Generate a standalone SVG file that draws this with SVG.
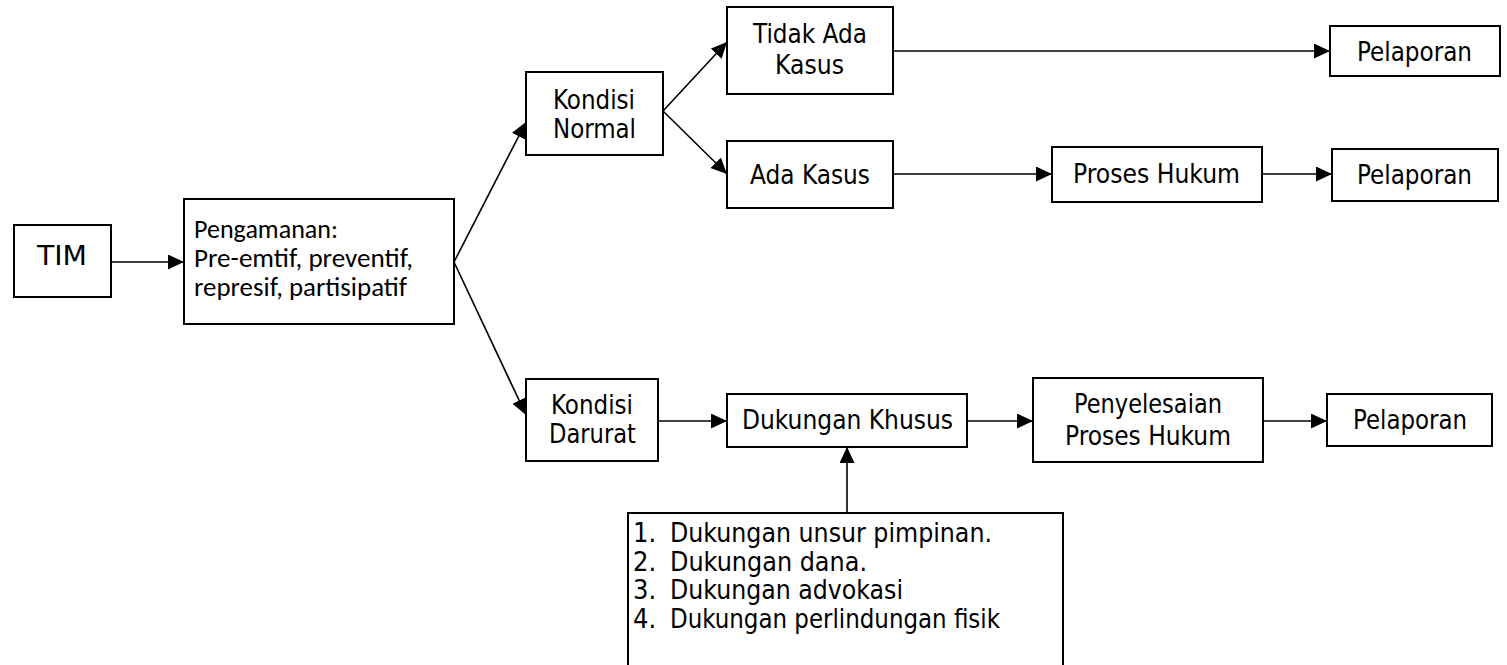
<svg xmlns="http://www.w3.org/2000/svg" width="1507" height="665" viewBox="0 0 1507 665">
<style>
.box{fill:#fff;stroke:#000;stroke-width:2}
.t{font-family:"DejaVu Sans Condensed","DejaVu Sans",sans-serif;font-stretch:condensed;font-size:27px;fill:#000}
.c{font-family:Carlito,Lato,"Liberation Sans",sans-serif;font-size:26px;fill:#000}
.ln{fill:none;stroke:#000;stroke-width:1.6}
</style>
<defs>
<marker id="ah" markerUnits="userSpaceOnUse" markerWidth="17" markerHeight="16" refX="16" refY="7.5" orient="auto">
<path d="M0,0 L16,7.5 L0,15 z" fill="#000"/>
</marker>
</defs>
<g id="connectors">
<line class="ln" x1="111" y1="262" x2="184" y2="262" marker-end="url(#ah)"/>
<line class="ln" x1="454" y1="262" x2="526" y2="122" marker-end="url(#ah)"/>
<line class="ln" x1="454" y1="262" x2="526" y2="415" marker-end="url(#ah)"/>
<line class="ln" x1="663" y1="111" x2="727" y2="42" marker-end="url(#ah)"/>
<line class="ln" x1="663" y1="111" x2="727" y2="174" marker-end="url(#ah)"/>
<line class="ln" x1="893" y1="51" x2="1330" y2="51" marker-end="url(#ah)"/>
<line class="ln" x1="893" y1="174" x2="1052" y2="174" marker-end="url(#ah)"/>
<line class="ln" x1="1262" y1="174" x2="1332" y2="174" marker-end="url(#ah)"/>
<line class="ln" x1="658" y1="421" x2="727" y2="421" marker-end="url(#ah)"/>
<line class="ln" x1="967" y1="421" x2="1033" y2="421" marker-end="url(#ah)"/>
<line class="ln" x1="1263" y1="421" x2="1327" y2="421" marker-end="url(#ah)"/>
<line class="ln" x1="847" y1="513" x2="847" y2="447" marker-end="url(#ah)"/>
</g>
<g id="tim">
<rect class="box" x="14" y="225" width="97" height="72"/>
<text class="t" x="37" y="265" textLength="50" lengthAdjust="spacingAndGlyphs">TIM</text>
</g>
<g id="pengamanan">
<rect class="box" x="184" y="199" width="270" height="125"/>
<text class="c" x="194" y="238" textLength="144" lengthAdjust="spacingAndGlyphs">Pengamanan:</text>
<text class="c" x="194" y="267" textLength="219" lengthAdjust="spacingAndGlyphs">Pre-emtif, preventif,</text>
<text class="c" x="194" y="296" textLength="213" lengthAdjust="spacingAndGlyphs">represif, partisipatif</text>
</g>
<g id="kondisi-normal">
<rect class="box" x="526" y="72" width="137" height="83"/>
<text class="t" x="553" y="109" textLength="82" lengthAdjust="spacingAndGlyphs">Kondisi</text>
<text class="t" x="553" y="138" textLength="83" lengthAdjust="spacingAndGlyphs">Normal</text>
</g>
<g id="tidak-ada-kasus">
<rect class="box" x="727" y="7" width="166" height="87"/>
<text class="t" x="753" y="43" textLength="114" lengthAdjust="spacingAndGlyphs">Tidak Ada</text>
<text class="t" x="775" y="74" textLength="69" lengthAdjust="spacingAndGlyphs">Kasus</text>
</g>
<g id="ada-kasus">
<rect class="box" x="727" y="141" width="166" height="67"/>
<text class="t" x="750" y="184" textLength="120" lengthAdjust="spacingAndGlyphs">Ada Kasus</text>
</g>
<g id="proses-hukum">
<rect class="box" x="1052" y="147" width="210" height="55"/>
<text class="t" x="1073" y="183" textLength="167" lengthAdjust="spacingAndGlyphs">Proses Hukum</text>
</g>
<g id="pelaporan-1">
<rect class="box" x="1330" y="26" width="170" height="50"/>
<text class="t" x="1357" y="61" textLength="115" lengthAdjust="spacingAndGlyphs">Pelaporan</text>
</g>
<g id="pelaporan-2">
<rect class="box" x="1332" y="149" width="166" height="52"/>
<text class="t" x="1357" y="184" textLength="115" lengthAdjust="spacingAndGlyphs">Pelaporan</text>
</g>
<g id="kondisi-darurat">
<rect class="box" x="526" y="379" width="132" height="82"/>
<text class="t" x="551" y="414" textLength="82" lengthAdjust="spacingAndGlyphs">Kondisi</text>
<text class="t" x="549" y="443" textLength="87" lengthAdjust="spacingAndGlyphs">Darurat</text>
</g>
<g id="dukungan-khusus">
<rect class="box" x="727" y="394" width="240" height="53"/>
<text class="t" x="742" y="429" textLength="211" lengthAdjust="spacingAndGlyphs">Dukungan Khusus</text>
</g>
<g id="penyelesaian">
<rect class="box" x="1033" y="378" width="230" height="84"/>
<text class="t" x="1074" y="413" textLength="148" lengthAdjust="spacingAndGlyphs">Penyelesaian</text>
<text class="t" x="1065" y="445" textLength="166" lengthAdjust="spacingAndGlyphs">Proses Hukum</text>
</g>
<g id="pelaporan-3">
<rect class="box" x="1327" y="394" width="165" height="52"/>
<text class="t" x="1353" y="429" textLength="114" lengthAdjust="spacingAndGlyphs">Pelaporan</text>
</g>
<g id="dukungan-list">
<rect class="box" x="628" y="513" width="435" height="200"/>
<text class="t" x="633" y="542">1.</text>
<text class="t" x="670" y="542" textLength="322" lengthAdjust="spacingAndGlyphs">Dukungan unsur pimpinan.</text>
<text class="t" x="633" y="571">2.</text>
<text class="t" x="670" y="571" textLength="197" lengthAdjust="spacingAndGlyphs">Dukungan dana.</text>
<text class="t" x="633" y="599">3.</text>
<text class="t" x="670" y="599" textLength="233" lengthAdjust="spacingAndGlyphs">Dukungan advokasi</text>
<text class="t" x="633" y="628">4.</text>
<text class="t" x="670" y="628" textLength="330" lengthAdjust="spacingAndGlyphs">Dukungan perlindungan fisik</text>
</g>
</svg>
